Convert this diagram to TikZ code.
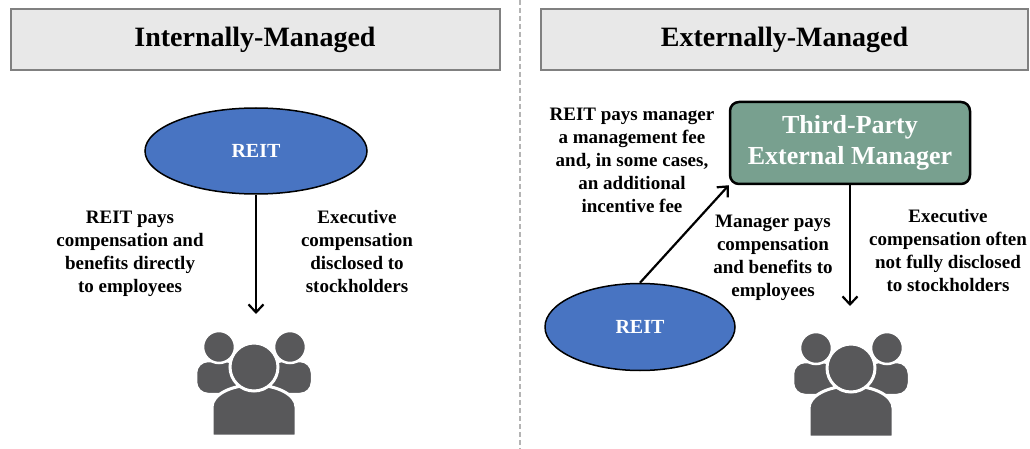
\documentclass[tikz,border=0pt]{standalone}
\usepackage{fontspec}
\setmainfont{Liberation Serif}
\usetikzlibrary{shapes.geometric,arrows.meta}

\definecolor{headfill}{HTML}{E8E8E8}
\definecolor{headline}{HTML}{808080}
\definecolor{reitblue}{HTML}{4874C2}
\definecolor{mgrgreen}{HTML}{78A08F}
\definecolor{icongrey}{HTML}{58585A}
\definecolor{splitgrey}{HTML}{B4B4B4}

\tikzset{
    header/.style={
        draw=headline,
        line width=2pt,
        fill=headfill,
        minimum height=61pt,
        inner sep=0pt,
        font=\fontsize{28}{32}\selectfont\bfseries
    },
    reit/.style={
        ellipse,
        draw=black,
        line width=1.5pt,
        fill=reitblue,
        inner sep=0pt,
        text=white,
        font=\fontsize{20}{24}\selectfont\bfseries
    },
    manager/.style={
        draw=black,
        line width=2.5pt,
        rounded corners=9pt,
        fill=mgrgreen,
        minimum width=240pt,
        minimum height=82pt,
        align=center,
        text=white,
        font=\fontsize{26}{31}\selectfont\bfseries
    },
    note/.style={
        align=center,
        inner sep=0pt,
        anchor=base,
        font=\fontsize{19}{23}\selectfont\bfseries
    },
    flow/.style={line width=2.2pt, -{Straight Barb[length=8pt,width=15pt,line width=2.2pt]}},
    pics/people/.style={code={
        % side figures
        \filldraw[fill=icongrey, draw=white, line width=2.5pt, rounded corners=12pt]
            (-58,27) rectangle (-16,-6);
        \filldraw[fill=icongrey, draw=white, line width=2.5pt, rounded corners=12pt]
            (16,-6) rectangle (58,27);
        \filldraw[fill=icongrey, draw=white, line width=2.5pt]
            (-35,-20) circle[radius=16] (36,-20) circle[radius=16];
        % front figure
        \filldraw[fill=icongrey, draw=white, line width=3pt]
            (-42,69) -- (-42,40) arc[start angle=180, end angle=360, x radius=42, y radius=22] -- (42,69) -- cycle;
        \filldraw[fill=icongrey, draw=white, line width=3pt]
            (0,0) circle[radius=24];
    }}
}

\begin{document}
\begin{tikzpicture}[x=1pt, y=-1pt]
    \useasboundingbox[fill=white] (0,0) rectangle (1030,449);

    \draw[splitgrey, line width=2pt, dash pattern=on 5pt off 3pt] (520,0) -- (520,449);

    % internally managed
    \node[
        header,
        minimum width=489pt,
        name=headA
    ] at (255,40) {Internally-Managed};

    \node[
        reit,
        minimum width=222pt,
        minimum height=86pt,
        name=reitA
    ] at (256,151) {REIT};

    % base anchor sits on the last line
    \node[note, name=payA] at (130,292) {REIT pays\\compensation and\\benefits directly\\to employees};
    \node[note, name=discA] at (357,292) {Executive\\compensation\\disclosed to\\stockholders};

    \pic at (254,367) {people};
    \coordinate (staffA) at (256,314);
    \draw[flow] (reitA.south) -- (staffA);

    % externally managed
    \node[
        header,
        minimum width=487pt,
        name=headB
    ] at (784.5,40) {Externally-Managed};

    \node[
        manager,
        name=mgr
    ] at (850,143) {Third-Party\\External Manager};

    \node[
        reit,
        minimum width=190pt,
        minimum height=87pt,
        name=reitB
    ] at (640,327) {REIT};

    \node[note, name=feeB] at (632,212) {REIT pays manager\\a management fee\\and, in some cases,\\an additional\\incentive fee};
    \node[note, name=payB] at (773,296) {Manager pays\\compensation\\and benefits to\\employees};
    \node[note, name=discB] at (948,291) {Executive\\compensation often\\not fully disclosed\\to stockholders};

    \pic at (851,368) {people};
    \coordinate (staffB) at (850,306);
    \draw[flow] (reitB.north) -- (mgr.south west);
    \draw[flow] (mgr.south) -- (staffB);
\end{tikzpicture}
\end{document}
